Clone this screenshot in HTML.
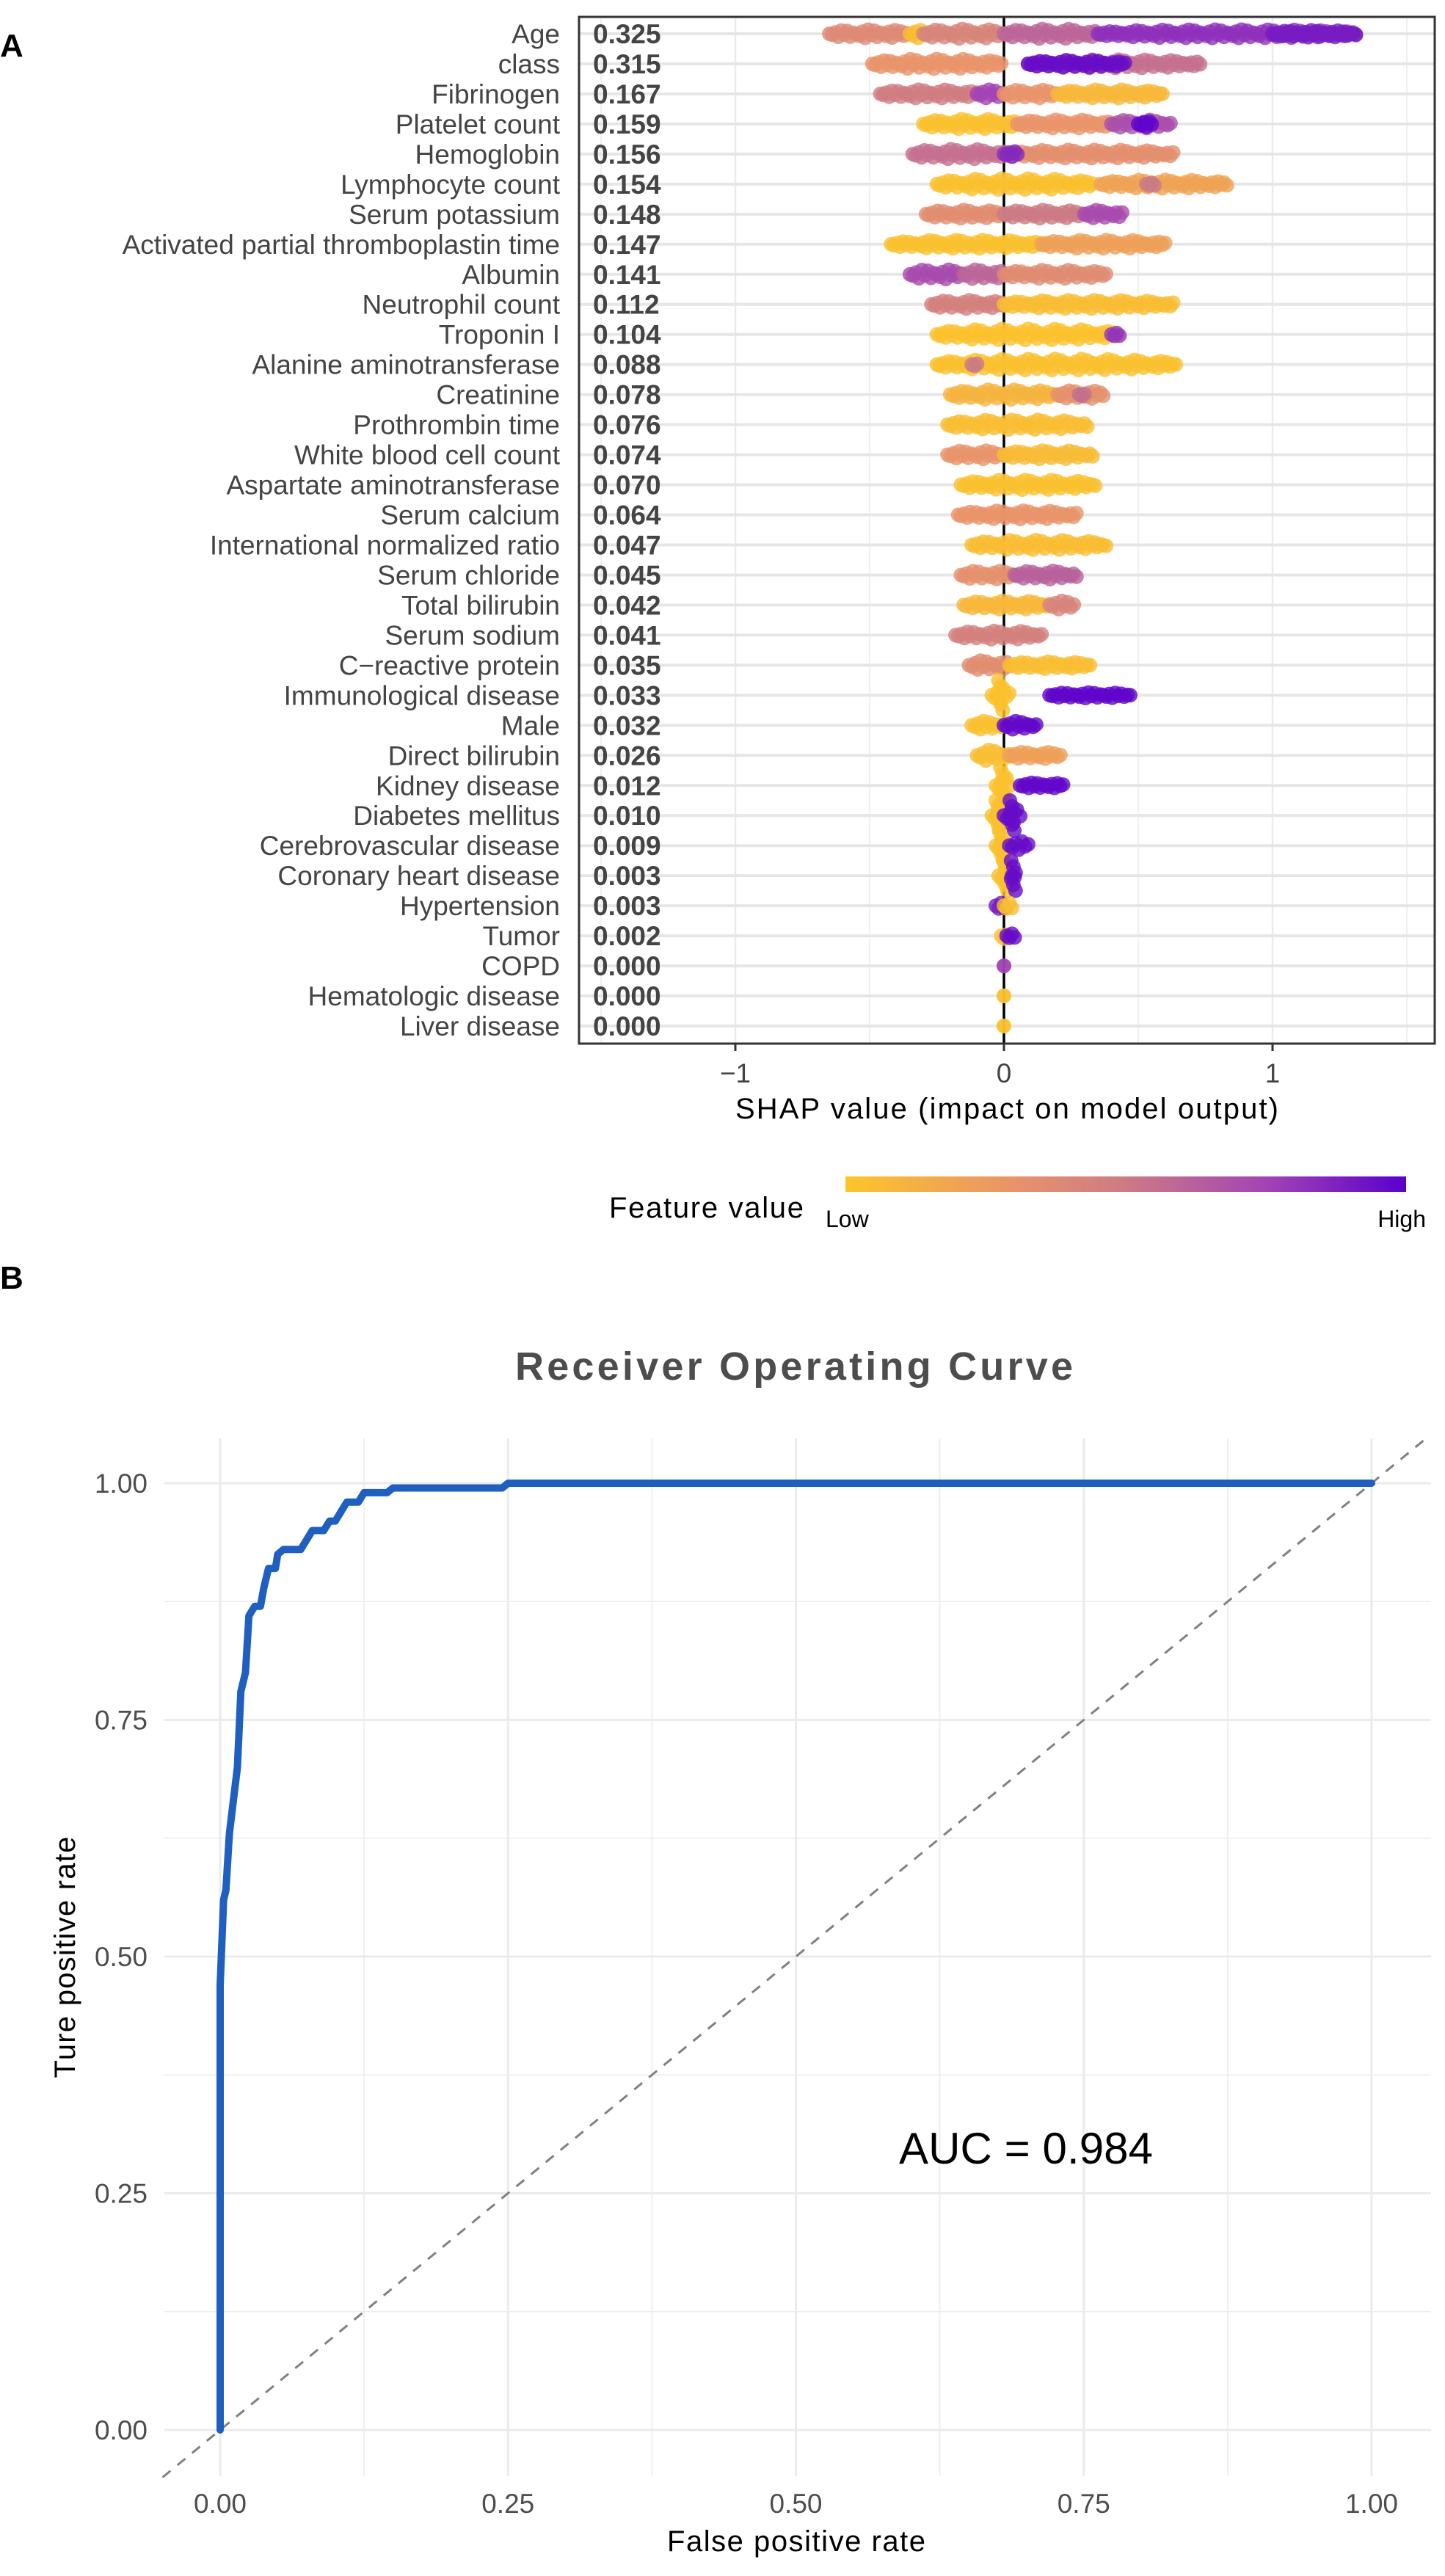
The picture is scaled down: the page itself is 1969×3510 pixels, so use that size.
<!DOCTYPE html>
<html><head><meta charset="utf-8"><style>
html,body{margin:0;padding:0;background:#fff}
svg{display:block}
text{font-family:"Liberation Sans",Arial,sans-serif}
</style></head><body>
<svg id="fig" width="1969" height="3510" viewBox="0 0 1969 3510" xmlns="http://www.w3.org/2000/svg">
<defs>
<linearGradient id="fvgrad" x1="0" x2="1" y1="0" y2="0">
<stop offset="0" stop-color="#FCC52A"/><stop offset="0.3" stop-color="#E8936A"/><stop offset="0.5" stop-color="#CC7B85"/><stop offset="0.75" stop-color="#A244B4"/><stop offset="1" stop-color="#5A00CC"/>
</linearGradient>
</defs>
<g id="panelA"></g>
<g id="panelB"></g>
</svg>
<script>
// ---------- Panel A data ----------
const featureNames = ["Age","class","Fibrinogen","Platelet count","Hemoglobin","Lymphocyte count","Serum potassium","Activated partial thromboplastin time","Albumin","Neutrophil count","Troponin I","Alanine aminotransferase","Creatinine","Prothrombin time","White blood cell count","Aspartate aminotransferase","Serum calcium","International normalized ratio","Serum chloride","Total bilirubin","Serum sodium","C\u2212reactive protein","Immunological disease","Male","Direct bilirubin","Kidney disease","Diabetes mellitus","Cerebrovascular disease","Coronary heart disease","Hypertension","Tumor","COPD","Hematologic disease","Liver disease"];
const importance = ["0.325","0.315","0.167","0.159","0.156","0.154","0.148","0.147","0.141","0.112","0.104","0.088","0.078","0.076","0.074","0.070","0.064","0.047","0.045","0.042","0.041","0.035","0.033","0.032","0.026","0.012","0.010","0.009","0.003","0.003","0.002","0.000","0.000","0.000"];
// segments: [featureIndex, shapStart, shapEnd, featureValue(0..1), verticalSpread(rows)]
const segments = [
[0,-0.65,-0.35,0.38,0.3],[0,-0.35,-0.3,0.05,0.3],[0,-0.3,0.0,0.42,0.35],[0,0.0,0.35,0.6,0.35],[0,0.35,1.31,0.82,0.3],[0,1.0,1.31,0.9,0.25],
[1,-0.49,-0.01,0.3,0.35],[1,0.09,0.73,0.55,0.3],[1,0.09,0.45,0.95,0.25],
[2,-0.46,-0.1,0.48,0.3],[2,-0.1,0.0,0.75,0.3],[2,0.0,0.2,0.3,0.3],[2,0.2,0.59,0.08,0.3],
[3,-0.3,0.05,0.03,0.35],[3,0.05,0.4,0.3,0.3],[3,0.4,0.62,0.7,0.3],[3,0.5,0.55,0.98,0.2],
[4,-0.34,0.0,0.55,0.35],[4,0.0,0.63,0.33,0.3],[4,0.0,0.05,0.85,0.2],
[5,-0.25,0.33,0.03,0.4],[5,0.36,0.83,0.2,0.3],[5,0.53,0.56,0.5,0.2],
[6,-0.29,0.0,0.35,0.3],[6,0.0,0.3,0.5,0.3],[6,0.3,0.44,0.72,0.3],
[7,-0.42,0.14,0.03,0.3],[7,0.14,0.6,0.22,0.3],
[8,-0.35,-0.15,0.72,0.35],[8,-0.15,0.0,0.6,0.35],[8,0.0,0.38,0.36,0.3],
[9,-0.27,0.0,0.45,0.3],[9,0.0,0.63,0.05,0.3],
[10,-0.25,0.42,0.02,0.4],[10,0.4,0.43,0.8,0.2],
[11,-0.25,0.64,0.03,0.4],[11,-0.12,-0.1,0.5,0.2],
[12,-0.2,0.2,0.1,0.35],[12,0.2,0.37,0.32,0.3],[12,0.28,0.3,0.55,0.2],
[13,-0.21,0.31,0.04,0.35],
[14,-0.21,0.0,0.3,0.3],[14,0.0,0.33,0.06,0.3],
[15,-0.16,0.34,0.03,0.35],
[16,-0.17,0.27,0.3,0.3],
[17,-0.12,0.38,0.05,0.35],
[18,-0.16,0.04,0.32,0.3],[18,0.04,0.27,0.62,0.3],
[19,-0.15,0.17,0.08,0.3],[19,0.17,0.26,0.42,0.3],
[20,-0.18,0.14,0.45,0.3],
[21,-0.13,0.02,0.35,0.35],[21,0.02,0.32,0.04,0.25],
[22,-0.045,0.02,0.02,0.5],[22,0.17,0.47,0.98,0.2],
[23,-0.12,0.0,0.03,0.3],[23,0.0,0.12,0.97,0.3],
[24,-0.1,0.02,0.04,0.4],[24,0.02,0.21,0.22,0.25],
[25,-0.03,0.02,0.02,0.6],[25,0.06,0.22,0.97,0.2],
[26,-0.045,0.0,0.03,0.5],[26,0.0,0.06,0.96,0.5],
[27,-0.03,0.01,0.03,0.5],[27,0.02,0.09,0.96,0.3],
[28,-0.02,0.03,0.03,0.5],[28,0.03,0.04,0.96,0.5],
[29,-0.03,0.0,0.9,0.4],[29,0.0,0.03,0.05,0.4],
[30,-0.01,0.01,0.03,0.4],[30,0.01,0.04,0.96,0.3],
[31,0.0,0.0,0.75,0.0],
[32,0.0,0.0,0.03,0.0],
[33,0.0,0.0,0.03,0.0]
];
const shapTicks = [-1,0,1];
const shapTickLabels = ["\u22121","0","1"];

// ---------- Panel B data ----------
const fpr = [0,0,0.003,0.005,0.008,0.012,0.015,0.018,0.022,0.025,0.03,0.035,0.038,0.042,0.048,0.05,0.055,0.07,0.075,0.08,0.09,0.095,0.1,0.105,0.11,0.12,0.125,0.145,0.15,0.245,0.25,1];
const tpr = [0,0.47,0.56,0.57,0.63,0.67,0.70,0.78,0.80,0.86,0.87,0.87,0.89,0.91,0.91,0.925,0.93,0.93,0.94,0.95,0.95,0.96,0.96,0.97,0.98,0.98,0.99,0.99,0.995,0.995,1,1];
const rocTicks = [0,0.25,0.5,0.75,1];
const rocTickLabels = ["0.00","0.25","0.50","0.75","1.00"];
const aucLabel = "AUC = 0.984";

const NS="http://www.w3.org/2000/svg";
function mk(parent,tag,attrs,txt){const e=document.createElementNS(NS,tag);for(const k in attrs)e.setAttribute(k,attrs[k]);if(txt!==undefined)e.textContent=txt;parent.appendChild(e);return e;}

// colour scale
const cStops=[[0,[252,197,42]],[0.3,[232,147,106]],[0.5,[204,123,133]],[0.75,[162,68,180]],[1,[90,0,204]]];
function fcol(v){for(let i=1;i<cStops.length;i++){if(v<=cStops[i][0]){const a=cStops[i-1],b=cStops[i];const t=(v-a[0])/(b[0]-a[0]);const c=a[1].map((x,j)=>Math.round(x+(b[1][j]-x)*t));return "rgb("+c.join(",")+")";}}return "rgb(90,0,204)";}

// ---------- Panel A ----------
const A=document.getElementById('panelA');
const boxL=789,boxR=1955,boxT=23,boxB=1422;
const x0A=1368,unitA=366;
const sx=v=>x0A+v*unitA;
const rowY0=46,rowStep=40.97;
const sy=i=>rowY0+i*rowStep;

// panel label
let t=mk(A,'text',{x:0,y:77,'font-size':44,'font-weight':'bold',fill:'#000'},'A');


// vertical grid
[-1.5,-1,-0.5,0.5,1,1.5].forEach(v=>{const X=sx(v);if(X>boxL&&X<boxR){const l=mk(A,'line',{x1:X,x2:X,y1:boxT,y2:boxB,stroke:'#ebebeb','stroke-width':Number.isInteger(v)?2.5:1.5});}});
// horizontal grid
featureNames.forEach((n,i)=>{const l=mk(A,'line',{x1:boxL,x2:boxR,y1:sy(i),y2:sy(i),stroke:'#e6e6e6','stroke-width':4});});
// zero line
let z=mk(A,'line',{x1:sx(0),x2:sx(0),y1:boxT,y2:boxB,stroke:'#000','stroke-width':3.5});


// dots
const dotsG=mk(A,'g',{});

const offs=[0,0.5,-0.5,1,-1,0.25,-0.75,0.75,-0.25];
segments.forEach((s,si)=>{
  const [fi,a,b,val,spr]=s;
  const X1=sx(a),X2=sx(b);const n=Math.max(1,Math.round((X2-X1)/4));
  const yc=sy(fi);
  const extra=spr>0.45?Math.round(spr*12):0;
  for(let k=0;k<=n;k++){
    const X=X1+(X2-X1)*(n===0?0:k/n);
    const taper=1-Math.pow(Math.abs((k/(n||1))*2-1),3)*0.6;
    const oy=offs[k%offs.length]*spr*rowStep*0.45*taper;
    const c=mk(dotsG,'circle',{cx:X.toFixed(1),cy:(yc+oy).toFixed(1),r:10,fill:fcol(val),'fill-opacity':0.8});
    
    
  }
  for(let k=0;k<extra;k++){
    const X=(X1+X2)/2+((k%3)-1)*3;
    const oy=((k/(extra-1||1))*2-1)*spr*rowStep;
    const c=mk(dotsG,'circle',{cx:X.toFixed(1),cy:(yc+oy).toFixed(1),r:10,fill:fcol(val),'fill-opacity':0.8});
    
    
  }
});

// box
let bx=mk(A,'rect',{x:boxL,y:boxT,width:boxR-boxL,height:boxB-boxT,fill:'none',stroke:'#333','stroke-width':3});


// labels
featureNames.forEach((n,i)=>{
  const l=mk(A,'text',{x:763,y:sy(i)+13,'font-size':37,'text-anchor':'end',fill:'#444'},n);
  
  const v=mk(A,'text',{x:808,y:sy(i)+13,'font-size':37,'font-weight':'bold',fill:'#444'},importance[i]);
  
});
// x ticks
shapTicks.forEach((v,i)=>{
  const tk=mk(A,'line',{x1:sx(v),x2:sx(v),y1:boxB,y2:boxB+10,stroke:'#333','stroke-width':3});
  
  const tl=mk(A,'text',{x:sx(v),y:1475,'font-size':37,'text-anchor':'middle',fill:'#444'},shapTickLabels[i]);
  
});
let xt=mk(A,'text',{x:sx(0)+4,y:1524,'font-size':40,'text-anchor':'middle',fill:'#000',textLength:740},'SHAP value (impact on model output)');

// legend
let lt=mk(A,'text',{x:830,y:1659,'font-size':40,fill:'#000',textLength:265},'Feature value');

let lb=mk(A,'rect',{x:1152,y:1603,width:764,height:21,fill:'url(#fvgrad)'});

let lo=mk(A,'text',{x:1125,y:1672,'font-size':32,fill:'#000'},'Low');

let hi=mk(A,'text',{x:1943,y:1672,'font-size':32,'text-anchor':'end',fill:'#000'},'High');


// ---------- Panel B ----------
const B=document.getElementById('panelB');
const x0B=300,unitBx=1569,y0B=3311,unitBy=1290;
const px=v=>x0B+v*unitBx, py=v=>y0B-v*unitBy;
const pL=224,pR=1950,pT=1960,pB=3374;
let bl=mk(B,'text',{x:0,y:1756,'font-size':44,'font-weight':'bold',fill:'#000'},'B');

let tt=mk(B,'text',{x:1082,y:1880,'font-size':54,'font-weight':'bold','text-anchor':'middle',fill:'#4d4d4d',textLength:760},'Receiver Operating Curve');

for(let k=0;k<=8;k++){
  const v=k*0.125;const major=k%2===0;
  const gx=mk(B,'line',{x1:px(v),x2:px(v),y1:pT,y2:pB,stroke:'#ebebeb','stroke-width':major?3:1.5});
  
  const gy=mk(B,'line',{x1:pL,x2:pR,y1:py(v),y2:py(v),stroke:'#ebebeb','stroke-width':major?3:1.5});
  
}
let dg=mk(B,'line',{x1:px(-0.05),y1:py(-0.05),x2:px(1.05),y2:py(1.05),stroke:'#808080','stroke-width':3,'stroke-dasharray':'14 12'});

let pts=fpr.map((f,i)=>px(f).toFixed(1)+','+py(tpr[i]).toFixed(1)).join(' ');
let rc=mk(B,'polyline',{points:pts,fill:'none',stroke:'#1F5FBF','stroke-width':10,'stroke-linejoin':'round','stroke-linecap':'round'});

rocTicks.forEach((v,i)=>{
  const a=mk(B,'text',{x:201,y:py(v)+13,'font-size':37,'text-anchor':'end',fill:'#4d4d4d'},rocTickLabels[i]);
  
  const b=mk(B,'text',{x:px(v),y:3424,'font-size':37,'text-anchor':'middle',fill:'#4d4d4d'},rocTickLabels[i]);
  
});
let xb=mk(B,'text',{x:1085,y:3476,'font-size':40,'text-anchor':'middle',fill:'#000',textLength:352},'False positive rate');

let yb=mk(B,'text',{x:0,y:0,'font-size':40,'text-anchor':'middle',fill:'#000',transform:'translate(102,2667) rotate(-90)',textLength:329},'Ture positive rate');

let au=mk(B,'text',{x:1225,y:2948,'font-size':60,fill:'#000',textLength:346},aucLabel);

</script>
</body></html>
